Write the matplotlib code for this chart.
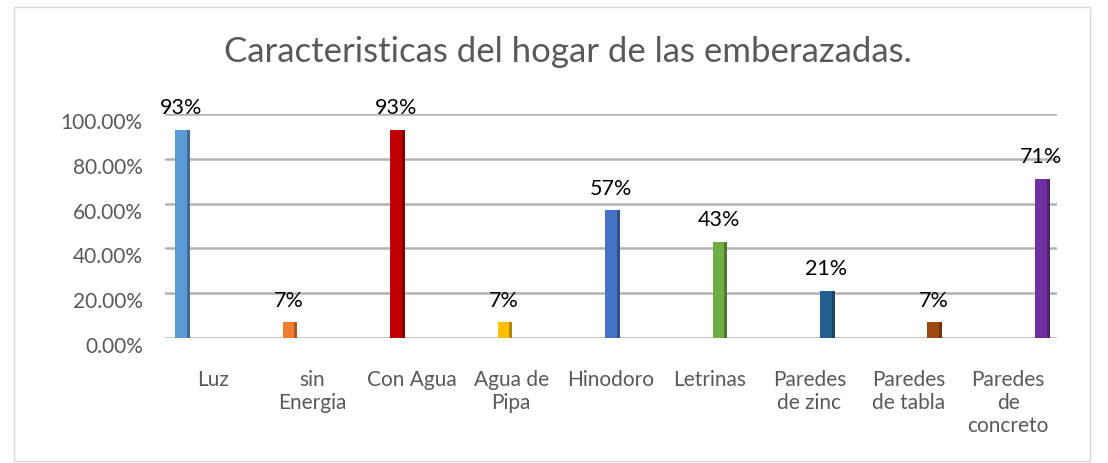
import numpy as np
import matplotlib.pyplot as plt
from matplotlib.patches import Rectangle
from matplotlib.ticker import FuncFormatter
from matplotlib.transforms import ScaledTranslation

# Datos
categorias = ["Luz", "sin\nEnergia", "Con Agua", "Agua de\nPipa", "Hinodoro",
              "Letrinas", "Paredes\nde zinc", "Paredes\nde tabla", "Paredes\nde\nconcreto"]
valores = [0.93, 0.07, 0.93, 0.07, 0.57, 0.43, 0.21, 0.07, 0.71]
colores = ["#5B9BD5", "#ED7D31", "#C00000", "#FFC000", "#4472C4",
           "#70AD47", "#255E91", "#9E480E", "#7030A0"]
etiquetas = ["93%", "7%", "93%", "7%", "57%", "43%", "21%", "7%", "71%"]

plt.rcParams['font.family'] = ['Lato', 'DejaVu Sans']
texto = '#595959'

fig = plt.figure(figsize=(11.08, 4.64), dpi=100)
fig.patches.append(Rectangle((14 / 1108, 2 / 464), 1076 / 1108, 454 / 464,
                             transform=fig.transFigure, fill=False,
                             edgecolor='#d9d9d9', linewidth=1))

ax = fig.add_axes([165 / 1108, 1 - 339 / 464, 892 / 1108, 224 / 464])
x = np.arange(len(categorias))
ancho = 0.11

def oscurecer(c, f=0.7):
    r, g, b = [int(c[i:i + 2], 16) / 255 for i in (1, 3, 5)]
    return (r * f, g * f, b * f)

ax.bar(x, valores, width=ancho, color=colores, zorder=3)
# cara lateral para efecto 3D
ax.bar(x + ancho * 0.62, valores, width=ancho * 0.25,
       color=[oscurecer(c) for c in colores], zorder=3)

for xi, v, t in zip(x, valores, etiquetas):
    ax.annotate(t, (xi, v), xytext=(0, 9), textcoords='offset points',
                ha='center', va='bottom', fontsize=15.5, color='black',
                annotation_clip=False)

ax.set_xlim(-0.15, 8.15)
ax.set_ylim(0, 1)
ax.set_yticks(np.arange(0, 1.01, 0.2))
ax.yaxis.set_major_formatter(FuncFormatter(lambda v, p: f"{v * 100:.2f}%"))
ax.tick_params(axis='y', length=0, pad=16, labelsize=15, labelcolor=texto)
desplaza = ScaledTranslation(0, -6 / 100, fig.dpi_scale_trans)
for tick in ax.yaxis.get_major_ticks():
    tick.label1.set_transform(tick.label1.get_transform() + desplaza)
ax.set_xticks([])
ax.grid(axis='y', color='#b3b3b3', linewidth=1.8, zorder=0)
for s in ax.spines.values():
    s.set_visible(False)

# eje de etiquetas (frente de la base en perspectiva)
ax2 = ax.twiny()
ax2.set_xlim(-0.483, 8.49)
ax2.xaxis.set_ticks_position('bottom')
ax2.set_xticks(x)
ax2.set_xticklabels(categorias, fontsize=15, color=texto, va='top',
                    linespacing=1.2)
ax2.tick_params(axis='x', length=0, pad=22)
for s in ax2.spines.values():
    s.set_visible(False)

fig.text(568 / 1108, 1 - 52 / 464, "Caracteristicas del hogar de las emberazadas.",
         ha='center', va='center', fontsize=25, color=texto)

fig.savefig("out.png", dpi=100)
